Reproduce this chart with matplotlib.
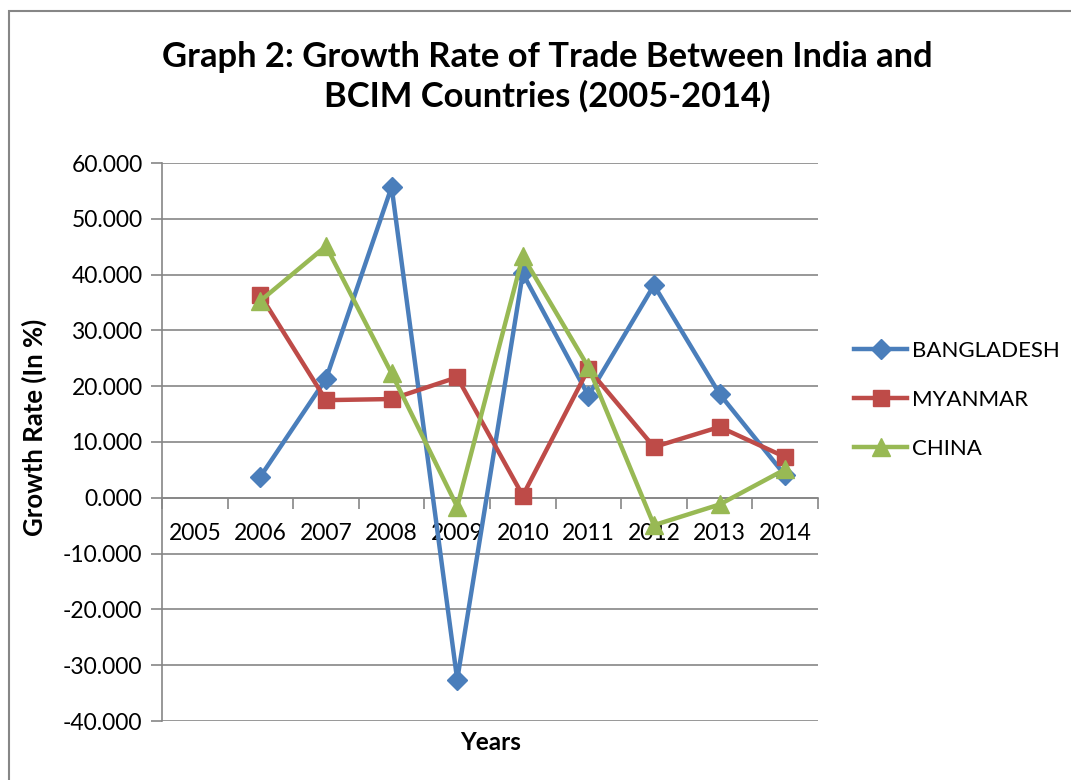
import matplotlib.pyplot as plt
from matplotlib.patches import Rectangle
from matplotlib.ticker import FixedLocator

# growth rate of trade, India with BCIM countries
years = ["2005", "2006", "2007", "2008", "2009", "2010", "2011", "2012", "2013", "2014"]
bangladesh = [None, 3.8, 21.3, 55.7, -32.6, 40.2, 18.3, 38.1, 18.6, 4.0]
myanmar = [None, 36.3, 17.5, 17.7, 21.6, 0.4, 23.1, 9.1, 12.7, 7.3]
china = [None, 35.3, 45.1, 22.3, -1.6, 43.3, 23.4, -4.9, -1.2, 5.1]

plt.rcParams["font.family"] = ["Lato", "DejaVu Sans"]
grey = "#868686"

fig = plt.figure(figsize=(10.71, 7.8), dpi=100)
ax = fig.add_axes([162 / 1071, 1 - 721 / 780, (818 - 162) / 1071, (721 - 163) / 780])

# x axis sits on the zero line, so move the spine before styling ticks
ax.spines["bottom"].set_position(("data", 0))

x = list(range(len(years)))


def clean(vals):
    return [float("nan") if v is None else v for v in vals]


ax.plot(x, clean(bangladesh), color="#4A7EBB", lw=3.2, marker="D", ms=10,
        label="BANGLADESH", zorder=3)
ax.plot(x, clean(myanmar), color="#BE4B48", lw=3.2, marker="s", ms=12,
        label="MYANMAR", zorder=4)
ax.plot(x, clean(china), color="#98B954", lw=3.2, marker="^", ms=13,
        label="CHINA", zorder=5)

ax.set_xlim(-0.5, len(years) - 0.5)
ax.set_ylim(-40, 60)
ax.set_yticks(range(-40, 61, 10))
ax.set_yticklabels([f"{v:.3f}" for v in range(-40, 61, 10)])
ax.grid(axis="y", color=grey, lw=1.2)
ax.set_axisbelow(True)

ax.set_xticks(x)
ax.set_xticklabels(years)
ax.xaxis.set_minor_locator(FixedLocator([i - 0.5 for i in range(len(years) + 1)]))
ax.tick_params(axis="x", which="major", length=0, pad=18, labelsize=16.5)
ax.tick_params(axis="x", which="minor", length=8, color=grey, width=1.2)
ax.tick_params(axis="y", length=8, color=grey, width=1.2, pad=6, labelsize=16.5)

ax.spines["bottom"].set_color(grey)
ax.spines["bottom"].set_linewidth(1.2)
ax.spines["left"].set_color(grey)
ax.spines["left"].set_linewidth(1.2)
ax.spines["top"].set_visible(False)
ax.spines["right"].set_visible(False)

fig.text(34 / 1071, 1 - 427 / 780, "Growth Rate (In %)", fontsize=18.5,
         fontweight="bold", rotation=90, ha="center", va="center")
fig.text(491 / 1071, 1 - 743 / 780, "Years", fontsize=17.5, fontweight="bold",
         ha="center", va="center")

fig.text(547 / 1071, 1 - 77 / 780, "Graph 2: Growth Rate of Trade Between India and\nBCIM Countries (2005-2014)",
         fontsize=24.8, fontweight="bold", ha="center", va="center", linespacing=1.25)

ax.legend(loc="center left", bbox_to_anchor=(845 / 1071, 1 - 400 / 780),
          bbox_transform=fig.transFigure, frameon=False, fontsize=16,
          handlelength=2.4, handletextpad=0.2, labelspacing=1.3, borderaxespad=0)

fig.patches.append(Rectangle((9 / 1071, -0.1), 1.2, 1 - 11 / 780 + 0.1,
                             transform=fig.transFigure, fill=False,
                             edgecolor=grey, lw=1.5))

fig.savefig("out.png", dpi=100)
